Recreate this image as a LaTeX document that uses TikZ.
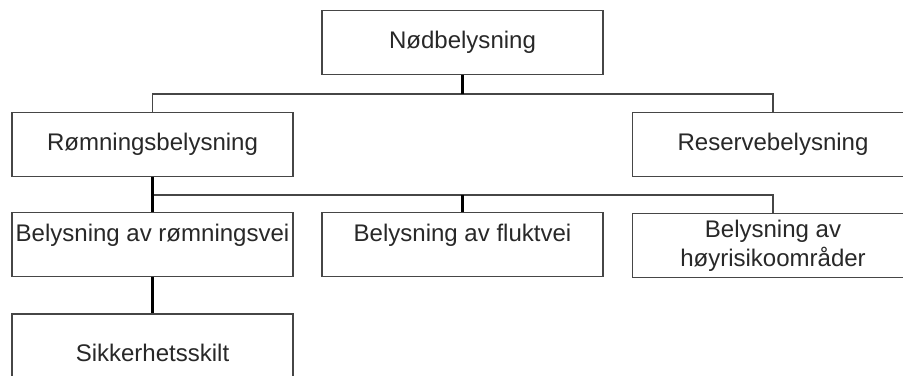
\documentclass[tikz,border=0pt]{standalone}
\usepackage{fontspec}
\setmainfont{Liberation Sans}
\usepackage{tikz}
\definecolor{boxGray}{RGB}{70, 70, 70}
\definecolor{textGray}{RGB}{40, 40, 40}

\begin{document}
\begin{tikzpicture}[x=0.03cm, y=-0.03cm,
  unit/.style={rectangle, draw=boxGray, line width=1.2pt, fill=white,
               minimum width=8.42cm, minimum height=1.92cm, inner sep=0pt,
               align=center, text=textGray,
               font=\fontsize{20.5}{24.5}\selectfont},
  lifted/.style={text depth=0.72cm},
  bus/.style={draw=boxGray, line width=1.3pt},
  stub/.style={draw=black, line width=2pt},
]
  \clip (0,0) rectangle (903,376);
  \fill[white] (0,0) rectangle (903,376);

  \node[unit] (nod)     at (462.5, 42.5)  {Nødbelysning};
  \node[unit] (romn)    at (152.5, 144.5) {Rømningsbelysning};
  \node[unit] (reserve) at (773, 144.5)   {Reservebelysning};
  \node[unit, lifted] (rvei) at (152.5, 244.5) {Belysning av rømningsvei};
  \node[unit, lifted] (fvei) at (462.5, 244.5) {Belysning av fluktvei};
  \node[unit] (hoy)     at (773, 245.5)   {Belysning av\\høyrisikoområder};
  \node[unit, minimum height=2.34cm] (sikk) at (152.5, 353) {Sikkerhetsskilt};

  \coordinate (b1) at (0, 94);
  \coordinate (b2) at (0, 195);

  \draw[bus] (romn.north) |- (b1 -| reserve.north) -- (reserve.north);
  \draw[stub] (nod.south) -- (nod.south |- b1);
  \draw[bus] (romn.south |- b2) -| (hoy.north);
  \draw[stub] (romn.south) -- (rvei.north);
  \draw[stub] (fvei.north) -- (fvei.north |- b2);
  \draw[stub] (rvei.south) -- (sikk.north);
\end{tikzpicture}
\end{document}
